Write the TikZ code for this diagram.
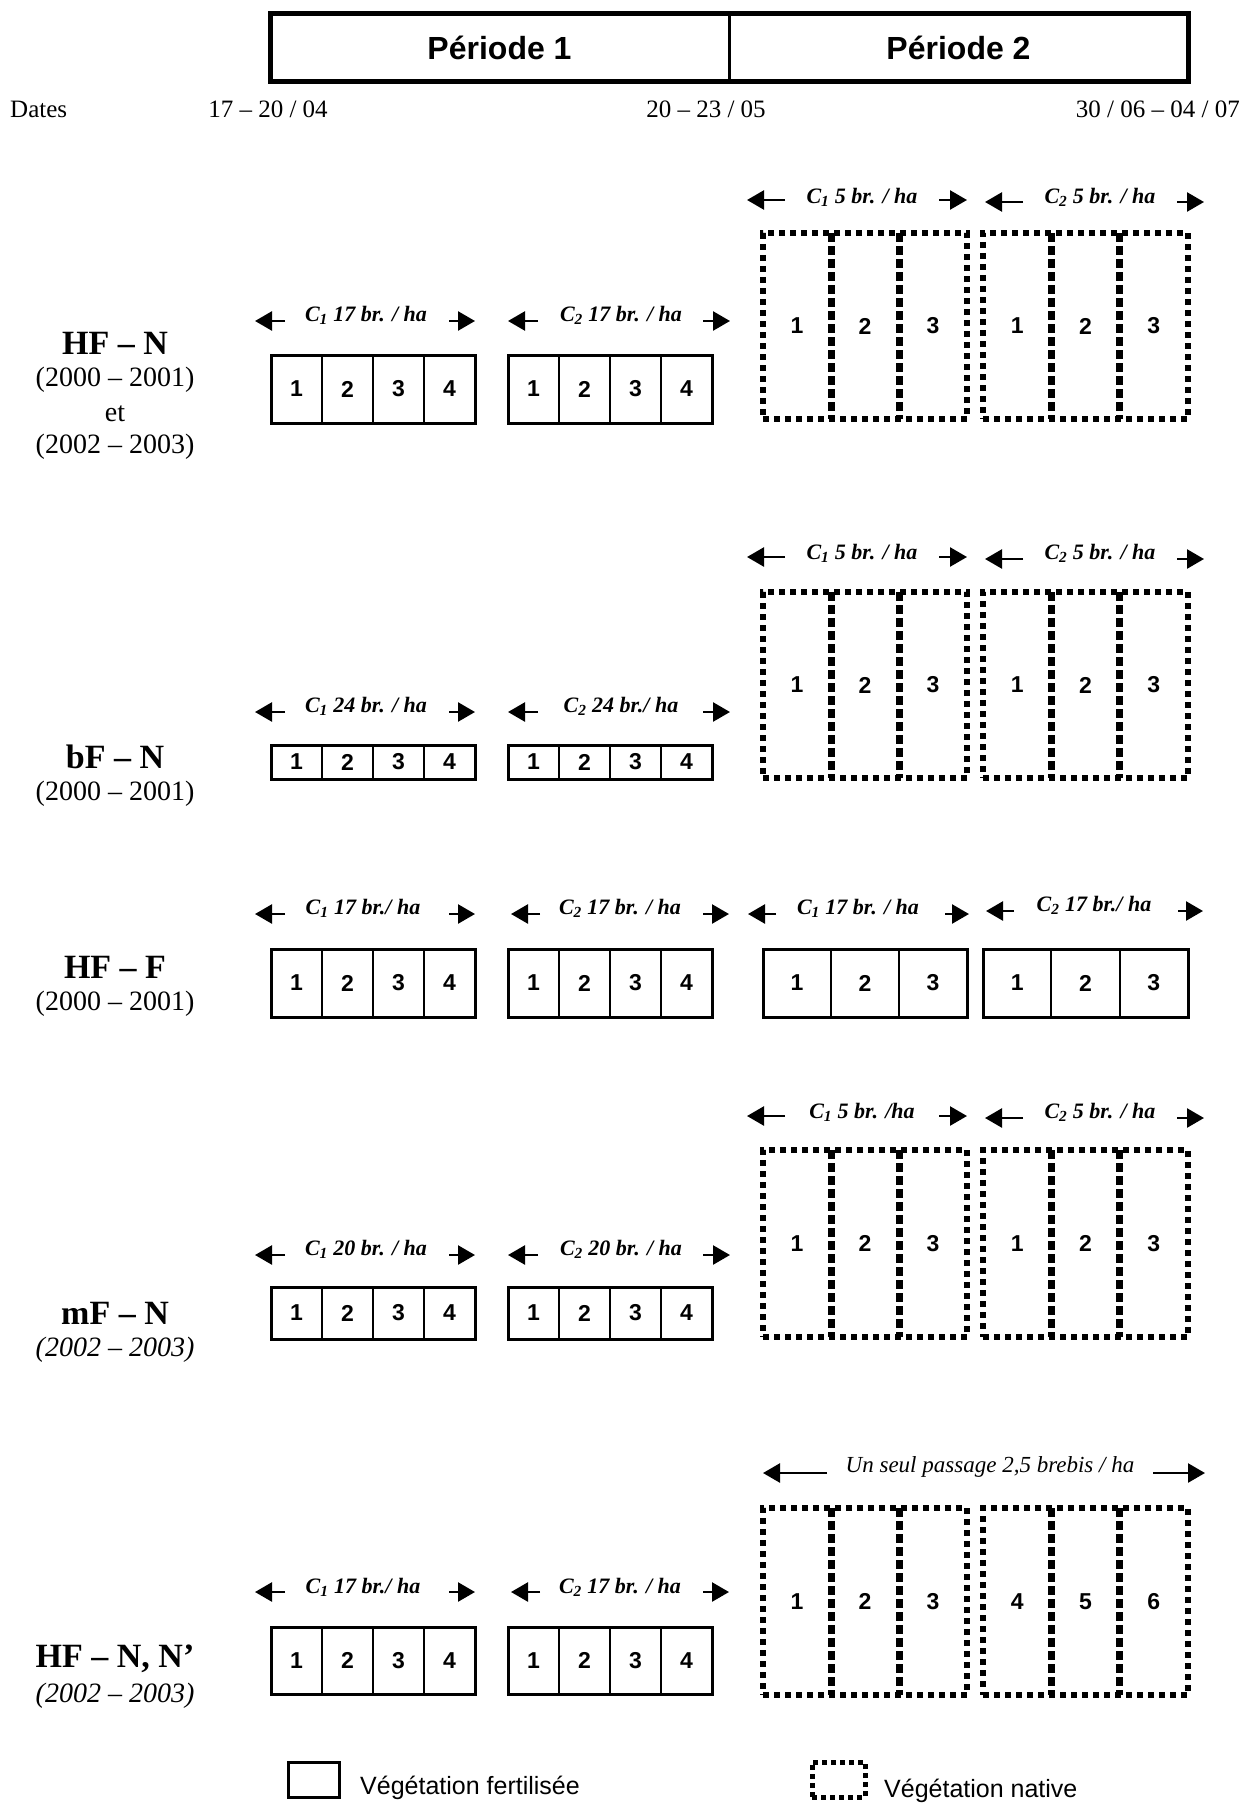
\documentclass[tikz,border=0pt]{standalone}
\usepackage{fontspec}
\setmainfont{Liberation Serif}
\setsansfont{Liberation Sans}
\usetikzlibrary{arrows.meta,fit}
\tikzset{
 lab/.style={font=\fontsize{22}{26}\selectfont\bfseries\itshape, inner sep=0pt},
 labn/.style={font=\fontsize{23}{27}\selectfont\itshape, inner sep=0pt},
 arr/.style={line width=2.5pt, -{Triangle[length=17pt,width=19pt]}},
 num/.style={font=\fontsize{23}{27}\selectfont\sffamily\bfseries, inner sep=0pt},
 solidframe/.style={draw, line width=3pt, inner sep=0pt},
 soliddiv/.style={line width=2pt},
 dashframe/.style={draw, line width=6pt, dash pattern=on 6pt off 5pt, inner sep=0pt},
 dashdiv/.style={line width=7pt, dash pattern=on 9pt off 4pt},
 rowtitle/.style={font=\fontsize{34}{38}\selectfont\bfseries, inner sep=0pt},
 rowsub/.style={font=\fontsize{28}{32}\selectfont, inner sep=0pt},
 datef/.style={font=\fontsize{25}{30}\selectfont, inner sep=0pt},
 head/.style={font=\fontsize{32}{36}\selectfont\sffamily\bfseries, inner sep=0pt},
 legf/.style={font=\fontsize{25}{30}\selectfont\sffamily, inner sep=0pt},
}
\newcommand\solidgrp[7]{%
  \node[solidframe, fit={(#2,#3) (#4,#5)}] (#1) {};
  \pgfmathtruncatemacro\nmo{#6-1}%
  \foreach \i in {1,...,\nmo}{\draw[soliddiv] ({#2+\i*(#4-#2)/#6},#3) -- ({#2+\i*(#4-#2)/#6},#5);}
  \foreach \i in {1,...,#6}{\node[num] (#1-\i) at ({#2+(\i-0.5)*(#4-#2)/#6},{(#3+#5)/2}) {\number\numexpr\i+#7\relax};}
}
\newcommand\dashgrp[7]{%
  \node[dashframe, fit={(#2,#3) (#4,#5)}] (#1) {};
  \pgfmathtruncatemacro\nmo{#6-1}%
  \foreach \i in {1,...,\nmo}{\draw[dashdiv] ({#2+\i*(#4-#2)/#6},#3) -- ({#2+\i*(#4-#2)/#6},#5);}
  \foreach \i in {1,...,#6}{\node[num] (#1-\i) at ({#2+(\i-0.5)*(#4-#2)/#6},{(#3+#5)/2}) {\number\numexpr\i+#7\relax};}
}
% name, xc, y, text, left tip, left tail, right tail, right tip, arrow y
\newcommand\grlab[9]{%
  \node[lab] (#1) at (#2,#3) {#4};
  \coordinate (#1-a) at (#6,#9); \coordinate (#1-b) at (#5,#9);
  \coordinate (#1-c) at (#7,#9); \coordinate (#1-d) at (#8,#9);
  \draw[arr] (#1-a) -- (#1-b);
  \draw[arr] (#1-c) -- (#1-d);
}
\begin{document}
\begin{tikzpicture}[x=1pt,y=-1pt]
\useasboundingbox (0,0) rectangle (1242,1803);
% header
\node[fit={(270,14) (1188,82)}, draw, line width=5pt, inner sep=0pt] (hdr) {};
\draw[line width=3pt] (hdr.north) -- (hdr.south);
\node[head] (p1) at (499.5,48) {Période 1};
\node[head] (p2) at (958.5,48) {Période 2};
% dates
\node[datef, anchor=west] (dts) at (10,109) {Dates};
\node[datef] (d1) at (268,109) {17 – 20 / 04};
\node[datef] (d2) at (706,109) {20 – 23 / 05};
\node[datef, anchor=east] (d3) at (1240,109) {30 / 06 – 04 / 07};

% ---------- Row 1 : HF - N
\node[rowtitle] (t1) at (115,343) {HF – N};
\node[rowsub] (t1a) at (115,380) {(2000 – 2001)};
\node[rowsub] (t1b) at (115,414) {et};
\node[rowsub] (t1c) at (115,447) {(2002 – 2003)};
\dashgrp{r1a}{763}{233}{967}{419}{3}{0}
\dashgrp{r1b}{983}{233}{1188}{419}{3}{0}
\solidgrp{r1c}{271}{355}{475}{423}{4}{0}
\solidgrp{r1d}{508}{355}{712}{423}{4}{0}
\grlab{l1a}{366}{315}{C\textsubscript{1} 17 br. / ha}{255}{285}{449}{475}{321}
\grlab{l1b}{621}{315}{C\textsubscript{2} 17 br. / ha}{508}{538}{703}{730}{321}
\grlab{l1c}{862}{197}{C\textsubscript{1} 5 br. / ha}{747}{785}{939}{967}{200}
\grlab{l1d}{1100}{197}{C\textsubscript{2} 5 br. / ha}{985}{1023}{1177}{1204}{202}

% ---------- Row 2 : bF - N
\node[rowtitle] (t2) at (115,757) {bF – N};
\node[rowsub] (t2a) at (115,794) {(2000 – 2001)};
\dashgrp{r2a}{763}{592}{967}{778}{3}{0}
\dashgrp{r2b}{983}{592}{1188}{778}{3}{0}
\solidgrp{r2c}{271}{745}{475}{779}{4}{0}
\solidgrp{r2d}{508}{745}{712}{779}{4}{0}
\grlab{l2a}{366}{706}{C\textsubscript{1} 24 br. / ha}{255}{285}{449}{475}{712}
\grlab{l2b}{621}{706}{C\textsubscript{2} 24 br./ ha}{508}{538}{703}{730}{712}
\grlab{l2c}{862}{553}{C\textsubscript{1} 5 br. / ha}{747}{785}{939}{967}{557}
\grlab{l2d}{1100}{553}{C\textsubscript{2} 5 br. / ha}{985}{1023}{1177}{1204}{559}

% ---------- Row 3 : HF - F
\node[rowtitle] (t3) at (115,967) {HF – F};
\node[rowsub] (t3a) at (115,1004) {(2000 – 2001)};
\solidgrp{r3a}{271}{949}{475}{1017}{4}{0}
\solidgrp{r3b}{508}{949}{712}{1017}{4}{0}
\solidgrp{r3c}{763}{949}{967}{1017}{3}{0}
\solidgrp{r3d}{983}{949}{1188}{1017}{3}{0}
\grlab{l3a}{363}{908}{C\textsubscript{1} 17 br./ ha}{255}{285}{449}{475}{914}
\grlab{l3b}{620}{908}{C\textsubscript{2} 17 br. / ha}{511}{540}{703}{729}{914}
\grlab{l3c}{858}{908}{C\textsubscript{1} 17 br. / ha}{748}{776}{945}{969}{914}
\grlab{l3d}{1094}{905}{C\textsubscript{2} 17 br./ ha}{986}{1014}{1178}{1203}{911}

% ---------- Row 4 : mF - N
\node[rowtitle] (t4) at (115,1313) {mF – N};
\node[rowsub, font=\fontsize{28}{32}\selectfont\itshape] (t4a) at (115,1350) {(2002 – 2003)};
\dashgrp{r4a}{763}{1150}{967}{1337}{3}{0}
\dashgrp{r4b}{983}{1150}{1188}{1337}{3}{0}
\solidgrp{r4c}{271}{1287}{475}{1339}{4}{0}
\solidgrp{r4d}{508}{1287}{712}{1339}{4}{0}
\grlab{l4a}{366}{1249}{C\textsubscript{1} 20 br. / ha}{255}{285}{449}{475}{1255}
\grlab{l4b}{621}{1249}{C\textsubscript{2} 20 br. / ha}{508}{538}{703}{730}{1255}
\grlab{l4c}{862}{1112}{C\textsubscript{1} 5 br. /ha}{747}{785}{939}{967}{1116}
\grlab{l4d}{1100}{1112}{C\textsubscript{2} 5 br. / ha}{985}{1023}{1177}{1204}{1118}

% ---------- Row 5 : HF - N, N'
\node[rowtitle] (t5) at (115,1659) {HF – N, N’};
\node[rowsub, font=\fontsize{28}{32}\selectfont\itshape] (t5a) at (115,1696) {(2002 – 2003)};
\dashgrp{r5a}{763}{1508}{967}{1695}{3}{0}
\dashgrp{r5b}{983}{1508}{1188}{1695}{3}{3}
\solidgrp{r5c}{271}{1627}{475}{1694}{4}{0}
\solidgrp{r5d}{508}{1627}{712}{1694}{4}{0}
\grlab{l5a}{363}{1587}{C\textsubscript{1} 17 br./ ha}{255}{285}{449}{475}{1592}
\grlab{l5b}{620}{1587}{C\textsubscript{2} 17 br. / ha}{511}{540}{703}{729}{1592}
\node[labn] (l5c) at (990,1467) {Un seul passage 2,5 brebis / ha};
\coordinate (l5c-a) at (827,1473); \coordinate (l5c-b) at (763,1473);
\coordinate (l5c-c) at (1153,1473); \coordinate (l5c-d) at (1205,1473);
\draw[arr] (l5c-a) -- (l5c-b);
\draw[arr] (l5c-c) -- (l5c-d);

% ---------- Legend
\node[solidframe, fit={(288,1762) (339,1797)}] (leg1) {};
\node[legf, anchor=west] (leg1t) at (360,1788) {Végétation fertilisée};
\node[draw, line width=5pt, dash pattern=on 5pt off 4pt, inner sep=0pt, fit={(812,1762) (865,1797)}] (leg2) {};
\node[legf, anchor=west] (leg2t) at (884,1791) {Végétation native};
\end{tikzpicture}
\end{document}
